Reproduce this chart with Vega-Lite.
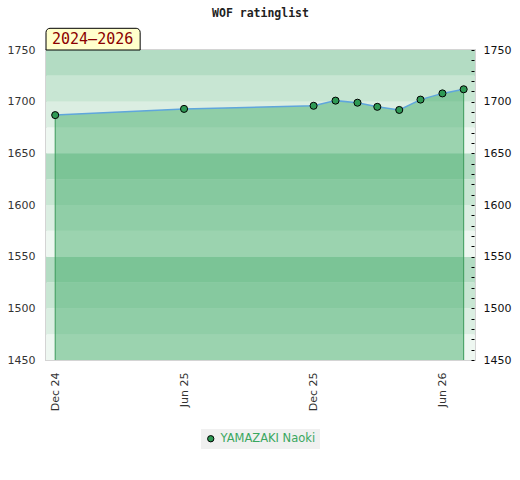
{
  "$schema": "https://vega.github.io/schema/vega-lite/v6.json",
  "width": 429,
  "height": 310,
  "autosize": {"type": "none"},
  "padding": {"left": 46, "top": 50, "right": 45, "bottom": 120},
  "title": {
    "text": "WOF ratinglist",
    "font": "DejaVu Sans Mono",
    "fontSize": 11.5,
    "fontWeight": "bold",
    "color": "#222222",
    "anchor": "middle",
    "offset": 8
  },
  "datasets": {
    "ratings": [
      {"player": "YAMAZAKI Naoki", "date": "2024-12-01", "rating": 1687},
      {"player": "YAMAZAKI Naoki", "date": "2025-06-01", "rating": 1693},
      {"player": "YAMAZAKI Naoki", "date": "2025-12-01", "rating": 1696},
      {"player": "YAMAZAKI Naoki", "date": "2026-01-01", "rating": 1701},
      {"player": "YAMAZAKI Naoki", "date": "2026-02-01", "rating": 1699},
      {"player": "YAMAZAKI Naoki", "date": "2026-03-01", "rating": 1695},
      {"player": "YAMAZAKI Naoki", "date": "2026-04-01", "rating": 1692},
      {"player": "YAMAZAKI Naoki", "date": "2026-05-01", "rating": 1702},
      {"player": "YAMAZAKI Naoki", "date": "2026-06-01", "rating": 1708},
      {"player": "YAMAZAKI Naoki", "date": "2026-07-01", "rating": 1712}
    ],
    "bands": [
      {"lo": 1450, "hi": 1475, "level": 0},
      {"lo": 1475, "hi": 1500, "level": 1},
      {"lo": 1500, "hi": 1525, "level": 2},
      {"lo": 1525, "hi": 1550, "level": 3},
      {"lo": 1550, "hi": 1575, "level": 0},
      {"lo": 1575, "hi": 1600, "level": 1},
      {"lo": 1600, "hi": 1625, "level": 2},
      {"lo": 1625, "hi": 1650, "level": 3},
      {"lo": 1650, "hi": 1675, "level": 0},
      {"lo": 1675, "hi": 1700, "level": 1},
      {"lo": 1700, "hi": 1725, "level": 2},
      {"lo": 1725, "hi": 1750, "level": 3}
    ],
    "badge": [
      {"label": "2024–2026", "start": "2024-11-18", "end": "2025-03-31", "low": 1750, "high": 1771, "mid": 1760.6}
    ]
  },
  "layer": [
    {
      "data": {"name": "bands"},
      "mark": {"type": "rect"},
      "encoding": {
        "y": {
          "field": "lo",
          "type": "quantitative",
          "scale": {"domain": [1450, 1750], "zero": false, "nice": false},
          "axis": {
            "orient": "left",
            "values": [1450, 1500, 1550, 1600, 1650, 1700, 1750],
            "format": "d",
            "ticks": false,
            "domain": false,
            "grid": false,
            "title": null,
            "labelPadding": 11,
            "labelFontSize": 11,
            "labelColor": "#333333"
          }
        },
        "y2": {"field": "hi"},
        "color": {
          "field": "level",
          "type": "ordinal",
          "scale": {"domain": [0, 1, 2, 3], "range": ["#eef7f1", "#dbeee2", "#c8e6d3", "#b3dcc3"]},
          "legend": null
        }
      }
    },
    {
      "data": {"name": "ratings"},
      "mark": {"type": "area", "color": "#39a861", "opacity": 0.46},
      "encoding": {
        "x": {
          "field": "date",
          "type": "temporal",
          "scale": {
            "type": "utc",
            "domain": [
              {"year": 2024, "month": 11, "date": 18, "utc": true},
              {"year": 2026, "month": 7, "date": 17, "utc": true}
            ]
          },
          "axis": {
            "values": [
              {"year": 2024, "month": 12, "date": 1, "utc": true},
              {"year": 2025, "month": 6, "date": 1, "utc": true},
              {"year": 2025, "month": 12, "date": 1, "utc": true},
              {"year": 2026, "month": 6, "date": 1, "utc": true}
            ],
            "format": "%b %y",
            "labelAngle": 270,
            "ticks": false,
            "domain": false,
            "grid": false,
            "title": null,
            "labelPadding": 12,
            "labelFontSize": 11,
            "labelColor": "#333333"
          }
        },
        "y": {"field": "rating", "type": "quantitative", "axis": null},
        "y2": {"datum": 1450}
      }
    },
    {
      "data": {"name": "ratings"},
      "transform": [
        {"joinaggregate": [
          {"op": "min", "field": "date", "as": "first"},
          {"op": "max", "field": "date", "as": "last"}
        ]},
        {"filter": "time(datum.date) === time(datum.first) || time(datum.date) === time(datum.last)"}
      ],
      "mark": {"type": "rule", "color": "#3a9a5a", "strokeWidth": 1},
      "encoding": {
        "x": {"field": "date", "type": "temporal"},
        "y": {"field": "rating", "type": "quantitative", "axis": null},
        "y2": {"datum": 1450}
      }
    },
    {
      "data": {"name": "ratings"},
      "mark": {"type": "line", "color": "#5fa6dc", "strokeWidth": 1.5},
      "encoding": {
        "x": {"field": "date", "type": "temporal"},
        "y": {
          "field": "rating",
          "type": "quantitative",
          "axis": {
            "orient": "right",
            "values": [1450, 1460, 1470, 1480, 1490, 1500, 1510, 1520, 1530, 1540, 1550, 1560, 1570, 1580, 1590, 1600, 1610, 1620, 1630, 1640, 1650, 1660, 1670, 1680, 1690, 1700, 1710, 1720, 1730, 1740, 1750],
            "labelExpr": "datum.value % 50 === 0 ? format(datum.value, 'd') : ''",
            "offset": -4,
            "tickSize": 3,
            "tickWidth": 1,
            "tickColor": "#000000",
            "domain": false,
            "grid": false,
            "title": null,
            "labelPadding": 9,
            "labelFontSize": 11,
            "labelColor": "#111111",
            "zindex": 1
          }
        }
      }
    },
    {
      "data": {"name": "ratings"},
      "mark": {"type": "point", "filled": true, "opacity": 1, "size": 50, "stroke": "#000000", "strokeWidth": 1},
      "encoding": {
        "x": {"field": "date", "type": "temporal"},
        "y": {"field": "rating", "type": "quantitative", "axis": null},
        "color": {
          "field": "player",
          "type": "nominal",
          "scale": {"range": ["#2f9a55"]},
          "legend": {
            "orient": "bottom",
            "direction": "horizontal",
            "title": null,
            "symbolType": "circle",
            "symbolSize": 40,
            "symbolStrokeColor": "#000000",
            "symbolStrokeWidth": 1,
            "labelColor": "#3aa75f",
            "labelFont": "DejaVu Sans",
            "labelFontSize": 11.5,
            "fillColor": "#f0f0f0",
            "padding": 4
          }
        }
      }
    },
    {
      "data": {"name": "badge"},
      "mark": {"type": "rect", "fill": "#ffffcc", "stroke": "#000000", "strokeWidth": 1, "cornerRadiusTopLeft": 4, "cornerRadiusTopRight": 4},
      "encoding": {
        "x": {"field": "start", "type": "temporal"},
        "x2": {"field": "end"},
        "y": {"field": "low", "type": "quantitative", "axis": null},
        "y2": {"field": "high"}
      }
    },
    {
      "data": {"name": "badge"},
      "mark": {"type": "text", "align": "left", "baseline": "middle", "dx": 6, "font": "DejaVu Sans Mono", "fontSize": 15, "color": "#8b0000"},
      "encoding": {
        "x": {"field": "start", "type": "temporal"},
        "y": {"field": "mid", "type": "quantitative", "axis": null},
        "text": {"field": "label"}
      }
    }
  ],
  "resolve": {
    "axis": {"y": "independent"},
    "scale": {"color": "independent"},
    "legend": {"color": "independent"}
  },
  "config": {
    "view": {"stroke": "#d4d4d4", "strokeWidth": 2},
    "axis": {"labelFont": "DejaVu Sans"},
    "legend": {"layout": {"bottom": {"anchor": "middle"}}}
  }
}
